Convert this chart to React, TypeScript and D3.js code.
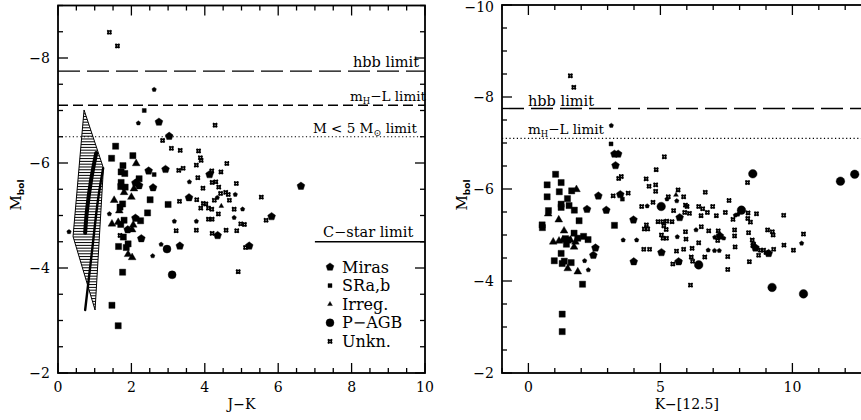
import React from 'react';
import * as d3 from 'd3';

type P = [number, number];

// ---------- tick labels ----------
const jkTicks = [0, 2, 4, 6, 8, 10];
const kTicks = [0, 5, 10];
const mbolTicksL = [-2, -4, -6, -8];
const mbolTicksR = [-2, -4, -6, -8, -10];
const legendLabels = ['Miras', 'SRa,b', 'Irreg.', 'P\u2212AGB', 'Unkn.'];

// ---------- limits (M_bol) ----------
const hbbLimit = -7.75;
const mhlLimit = -7.1;
const mass5Limit = -6.5;
const cstarLimit = -4.5;
const cstarStart = 7.0;

// ---------- left panel: J-K vs Mbol ----------
const leftMiras: P[] = [[2.75,-6.78],[3.03,-6.51],[2.47,-5.85],[2.93,-5.88],[2.11,-5.62],[2.21,-5.57],[2.59,-5.53],[3.57,-5.34],[2.11,-4.95],[1.90,-4.73],[2.27,-4.56],[3.32,-4.42],[4.35,-4.62],[5.21,-4.42],[5.82,-4.98],[6.62,-5.56],[4.13,-5.78]];
const leftMirasFaint: P[] = [[2.62,-7.40],[2.19,-6.76],[3.58,-5.64],[4.83,-5.40],[4.34,-5.34],[5.03,-5.12],[1.40,-5.03],[3.17,-4.89],[3.77,-4.89],[4.80,-4.96],[2.81,-4.45],[2.58,-4.23],[0.30,-4.69]];
const leftSR: P[] = [[1.57,-6.32],[2.04,-6.14],[1.46,-6.09],[1.77,-5.95],[1.72,-5.83],[1.82,-5.80],[2.21,-5.70],[1.72,-5.63],[1.71,-5.55],[1.83,-5.54],[2.51,-5.30],[1.76,-5.22],[1.69,-5.16],[3.00,-5.21],[2.44,-5.05],[1.80,-4.91],[1.71,-4.83],[2.25,-4.90],[1.78,-4.59],[1.91,-4.46],[1.65,-4.41],[1.86,-4.39],[1.76,-3.92],[1.47,-3.29],[1.64,-2.90]];
const leftSRFaint: P[] = [[2.35,-7.00],[2.62,-5.78]];
const leftIrr: P[] = [[2.13,-5.99],[2.07,-5.51],[1.80,-5.44],[2.00,-5.35],[1.53,-5.29],[1.67,-5.09],[1.47,-4.84],[2.02,-4.73],[1.91,-4.26],[2.02,-4.20],[1.64,-4.87],[2.05,-4.82]];
const leftIrrFaint: P[] = [[4.45,-5.18]];
const leftPAGB: P[] = [[2.97,-4.36],[3.11,-3.87]];
const leftUnkn: P[] = [[1.40,-8.49],[1.62,-8.23],[4.28,-6.72],[2.85,-6.43],[3.09,-6.28],[3.33,-6.24],[3.83,-6.23],[3.88,-6.10],[3.90,-6.05],[3.77,-5.96],[4.60,-5.99],[3.29,-5.86],[3.41,-5.90],[4.19,-5.85],[4.44,-5.83],[3.81,-5.72],[4.20,-5.63],[4.30,-5.64],[4.86,-5.61],[3.95,-5.52],[4.38,-5.54],[4.43,-5.42],[4.57,-5.44],[4.64,-5.40],[5.54,-5.35],[3.31,-5.27],[3.78,-5.30],[3.96,-5.23],[4.03,-5.22],[4.26,-5.29],[4.67,-5.29],[3.89,-5.14],[4.10,-5.14],[4.19,-5.12],[4.80,-5.12],[4.37,-5.03],[4.10,-4.93],[4.20,-4.93],[4.98,-4.84],[5.08,-4.83],[5.67,-4.91],[3.22,-4.71],[3.77,-4.72],[4.20,-4.66],[4.58,-4.72],[4.87,-4.71],[1.69,-4.62],[5.11,-4.39],[4.91,-3.93]];

// model region and tracks (J-K, Mbol)
const modelRegion: P[] = [[0.71,-7.01],[1.23,-5.92],[1.23,-5.81],[1.01,-3.20],[0.41,-4.60]];
const trackA: P[] = [[1.04,-6.19],[0.90,-5.67],[0.79,-5.10],[0.74,-4.67]];
const trackB: P[] = [[1.23,-5.90],[1.09,-5.30],[0.93,-4.34],[0.82,-3.68],[0.74,-3.20]];

// ---------- right panel: K-[12.5] vs Mbol ----------
const rightMiras: P[] = [[3.26,-6.76],[3.40,-6.76],[3.30,-6.51],[3.48,-5.88],[2.65,-5.85],[2.22,-5.56],[2.95,-5.54],[3.98,-5.33],[2.54,-4.72],[2.46,-4.56],[3.99,-4.42],[5.04,-4.62],[5.69,-4.42],[5.73,-5.38],[7.25,-4.98],[8.60,-4.72],[9.10,-4.60]];
const rightMirasFaint: P[] = [[3.14,-7.38],[5.25,-5.78],[5.62,-5.74],[4.50,-5.63],[3.59,-4.89],[4.10,-4.89],[2.13,-4.44],[2.27,-4.24],[6.35,-5.11],[7.06,-4.95],[7.40,-4.93],[6.81,-4.67],[7.05,-4.66],[7.23,-4.66],[5.64,-4.96],[7.84,-5.43],[7.94,-5.45],[10.35,-4.82]];
const rightSR: P[] = [[1.03,-6.32],[0.71,-6.09],[1.24,-6.14],[1.17,-5.94],[1.64,-5.96],[0.71,-5.83],[1.48,-5.79],[1.24,-5.67],[1.24,-5.60],[1.54,-5.64],[1.74,-5.54],[0.76,-5.53],[1.92,-5.31],[0.52,-5.22],[0.53,-5.16],[3.26,-5.21],[1.73,-5.04],[1.41,-4.92],[1.50,-4.89],[1.44,-4.80],[1.87,-4.93],[2.09,-4.97],[2.26,-4.90],[1.24,-4.60],[0.98,-4.44],[1.36,-4.43],[1.28,-4.38],[1.62,-4.40],[2.05,-3.93],[1.28,-3.28],[1.28,-2.90]];
const rightSRFaint: P[] = [[3.13,-6.98],[3.56,-5.78]];
const rightIrr: P[] = [[1.82,-5.99],[1.15,-5.33],[0.75,-5.46],[1.35,-5.09],[0.94,-4.85],[1.16,-4.87],[1.30,-4.89],[1.59,-4.89],[1.78,-4.85],[1.73,-4.74],[1.49,-4.27],[1.87,-4.20]];
const rightIrrFaint: P[] = [[5.59,-5.87]];
const rightPAGB: P[] = [[8.50,-6.33],[11.82,-6.17],[12.36,-6.32],[8.07,-5.54],[5.03,-5.62],[6.45,-4.35],[9.23,-3.86],[10.42,-3.72]];
const rightUnkn: P[] = [[1.59,-8.46],[1.72,-8.21],[5.15,-6.70],[4.84,-6.42],[3.42,-6.23],[3.52,-6.27],[4.46,-6.22],[4.57,-6.06],[4.82,-6.09],[4.82,-5.95],[5.67,-5.98],[6.70,-5.93],[8.30,-6.14],[3.21,-5.85],[3.78,-5.91],[5.30,-5.83],[5.88,-5.83],[7.60,-5.75],[4.29,-5.62],[4.72,-5.71],[5.50,-5.53],[5.95,-5.65],[6.01,-5.62],[5.92,-5.49],[6.10,-5.47],[6.45,-5.62],[6.60,-5.57],[6.98,-5.62],[6.54,-5.42],[6.78,-5.49],[7.12,-5.42],[7.46,-5.49],[7.75,-5.34],[8.32,-5.48],[8.31,-5.36],[8.41,-5.28],[8.64,-5.46],[9.67,-5.43],[4.47,-5.22],[4.39,-5.13],[4.52,-5.13],[4.91,-5.29],[5.09,-5.29],[5.24,-5.30],[5.44,-5.29],[5.22,-5.12],[5.13,-5.20],[5.04,-5.00],[5.10,-4.93],[5.23,-4.93],[5.95,-5.07],[5.97,-4.91],[6.55,-5.18],[6.83,-5.09],[7.19,-5.09],[7.17,-4.88],[6.45,-4.83],[7.81,-5.11],[7.81,-4.98],[8.34,-5.05],[8.48,-4.89],[8.53,-4.80],[9.06,-5.11],[9.24,-5.07],[9.27,-5.00],[4.37,-4.69],[4.59,-4.69],[5.61,-4.65],[5.88,-4.69],[6.20,-4.71],[6.68,-4.52],[7.83,-4.74],[8.50,-4.77],[8.79,-4.67],[8.91,-4.67],[9.00,-4.62],[9.29,-4.69],[8.72,-4.56],[9.68,-4.78],[10.04,-4.67],[10.42,-5.02],[5.47,-4.37],[5.72,-4.42],[6.17,-4.52],[6.22,-4.43],[7.55,-4.53],[7.55,-4.25],[8.37,-4.42],[6.14,-3.91]];

// ---------- symbols ----------
const pentagonType = {
  draw(ctx: any, size: number) {
    const r = Math.sqrt(size / 2.3776);
    for (let i = 0; i < 5; i++) {
      const a = -Math.PI / 2 + (i * 2 * Math.PI) / 5;
      const x = r * Math.cos(a), y = r * Math.sin(a);
      if (i) ctx.lineTo(x, y); else ctx.moveTo(x, y);
    }
    ctx.closePath();
  },
};
const unknType = {
  draw(ctx: any, size: number) {
    const s = Math.sqrt(size) / 2;
    const k = 0.2;
    ctx.moveTo(-s, -s);
    ctx.quadraticCurveTo(0, -s * k, s, -s);
    ctx.quadraticCurveTo(s * k, 0, s, s);
    ctx.quadraticCurveTo(0, s * k, -s, s);
    ctx.quadraticCurveTo(-s * k, 0, -s, -s);
    ctx.closePath();
  },
};

const sym = {
  mira: d3.symbol().type(pentagonType as any).size(40)()!,
  miraFaint: d3.symbol().type(pentagonType as any).size(13)()!,
  sr: d3.symbol().type(d3.symbolSquare).size(38)()!,
  srFaint: d3.symbol().type(d3.symbolSquare).size(16)()!,
  irr: d3.symbol().type(d3.symbolTriangle).size(26)()!,
  irrFaint: d3.symbol().type(d3.symbolTriangle).size(10)()!,
  pagb: d3.symbol().type(d3.symbolCircle).size(50)()!,
  pagbR: d3.symbol().type(d3.symbolCircle).size(58)()!,
  unkn: d3.symbol().type(unknType as any).size(16)()!,
};

const SERIF = '"DejaVu Serif", "Liberation Serif", serif';
const SANS = '"DejaVu Sans", sans-serif';
const MINUS = '\u2212';
const fmt = (v: number) => (v < 0 ? MINUS + Math.abs(v) : String(v));

// ---------- layout ----------
const W = 861, H = 420;
const L = { x0: 58, x1: 425, y0: 373, y1: 5.5 };
const R = { x0: 502, x1: 871.6, y0: 373, y1: 5 };

function Marks({ data, d, x, y, filled = true }: { data: P[]; d: string; x: any; y: any; filled?: boolean }) {
  return (
    <g>
      {data.map((p, i) => (
        <path key={i} d={d} transform={`translate(${x(p[0])},${y(p[1])})`}
          fill={filled ? '#000' : 'none'} stroke="#000" strokeWidth={filled ? 0.4 : 1.5} />
      ))}
    </g>
  );
}

function Frame({ x, y, box, xMajor, xMinor, yMajor, yMinor, xLabels }: any) {
  const els: any[] = [];
  xMinor.forEach((v: number, i: number) => {
    const px = x(v);
    const len = xMajor.includes(v) ? 10 : 5;
    els.push(<line key={'xb' + i} x1={px} x2={px} y1={box.y0} y2={box.y0 - len} />);
    els.push(<line key={'xt' + i} x1={px} x2={px} y1={box.y1} y2={box.y1 + len} />);
  });
  yMinor.forEach((v: number, i: number) => {
    const py = y(v);
    const len = yMajor.includes(v) ? 10 : 5;
    els.push(<line key={'yl' + i} x1={box.x0} x2={box.x0 + len} y1={py} y2={py} />);
    els.push(<line key={'yr' + i} x1={box.x1} x2={box.x1 - len} y1={py} y2={py} />);
  });
  return (
    <g>
      <g stroke="#000" strokeWidth={1.3}>{els}</g>
      <rect x={box.x0} y={box.y1} width={box.x1 - box.x0} height={box.y0 - box.y1} fill="none" stroke="#000" strokeWidth={1.8} />
      <g fontFamily={SERIF} fontSize={14} fill="#000">
        {xLabels.map((v: number) => (
          <text key={'xl' + v} x={x(v)} y={box.y0 + 19} textAnchor="middle">{fmt(v)}</text>
        ))}
        {yMajor.map((v: number) => (
          <text key={'yl' + v} x={box.x0 - 8} y={Math.max(y(v) + 5, 12)} textAnchor="end">{fmt(v)}</text>
        ))}
      </g>
    </g>
  );
}

export default function App() {
  const xL = d3.scaleLinear().domain([0, 10]).range([L.x0, L.x1]);
  const yL = d3.scaleLinear().domain([-2, -9]).range([L.y0, L.y1]);
  const xR = d3.scaleLinear().domain([-1, 13]).range([R.x0, R.x1]);
  const yR = d3.scaleLinear().domain([-2, -10]).range([R.y0, R.y1]);

  const line = (xs: any, ys: any) => d3.line<P>().x((p) => xs(p[0])).y((p) => ys(p[1])).curve(d3.curveCatmullRom);
  const polyPts = modelRegion.map((p) => [xL(p[0]), yL(p[1])]);
  const polyStr = polyPts.map((p) => p.join(',')).join(' ');
  const yMin = d3.min(polyPts, (p) => p[1])!;
  const yMax = d3.max(polyPts, (p) => p[1])!;
  const hatch = d3.range(yMin + 1, yMax, 2.8);

  const minorL = d3.range(0, 10.001, 0.5);
  const minorYL = d3.range(-2, -9.001, -0.5);
  const minorR = d3.range(-1, 13.001, 1);
  const minorYR = d3.range(-2, -10.001, -0.5);

  const legendX = 330, legendY0 = 267, legendDy = 18.6;
  const legendSyms = [sym.mira, sym.srFaint, sym.irrFaint, sym.pagb, sym.unkn];

  return (
    <svg width={W} height={H} style={{ position: 'absolute', left: 0, top: 0, background: '#fff' }}>
      <rect x={0} y={0} width={W} height={H} fill="#fff" />
      {/* ================= LEFT PANEL ================= */}
      <defs>
        <clipPath id="modelClip"><polygon points={polyStr} /></clipPath>
      </defs>
      <g clipPath="url(#modelClip)" stroke="#000" strokeWidth={1}>
        {hatch.map((py, i) => (
          <line key={i} x1={xL(0)} x2={xL(2)} y1={py} y2={py} />
        ))}
      </g>
      <polygon points={polyStr} fill="none" stroke="#000" strokeWidth={1} />
      <path d={line(xL, yL)(trackA)!} fill="none" stroke="#000" strokeWidth={4} strokeLinecap="round" />
      <path d={line(xL, yL)(trackB)!} fill="none" stroke="#000" strokeWidth={2.4} strokeLinecap="round" />

      <g stroke="#000" strokeWidth={1.4} fill="none">
        <line x1={xL(0)} x2={xL(10)} y1={yL(hbbLimit)} y2={yL(hbbLimit)} strokeDasharray="22 7" />
        <line x1={xL(0)} x2={xL(10)} y1={yL(mhlLimit)} y2={yL(mhlLimit)} strokeDasharray="10 5" />
        <line x1={xL(0)} x2={xL(10)} y1={yL(mass5Limit)} y2={yL(mass5Limit)} strokeDasharray="1.2 2.5" strokeWidth={1.1} />
        <line x1={xL(cstarStart)} x2={xL(10)} y1={yL(cstarLimit)} y2={yL(cstarLimit)} />
      </g>
      <g fontFamily={SERIF} fontSize={14.5} fill="#000">
        <text x={353} y={yL(hbbLimit) - 4}>hbb limit</text>
        <text x={350} y={yL(mhlLimit) - 4} fontSize={13.5}>m<tspan fontSize={8.5} dy={3}>H</tspan><tspan dy={-3}>{MINUS}L limit</tspan></text>
        <text x={313} y={yL(mass5Limit) - 4} fontSize={13.5}>M &lt; 5 M<tspan fontSize={9.5} dy={3}>{'\u2299'}</tspan><tspan dy={-3}> limit</tspan></text>
        <text x={323} y={yL(cstarLimit) - 5}>C{MINUS}star limit</text>
      </g>

      <Marks data={leftUnkn} d={sym.unkn} x={xL} y={yL} filled={false} />
      <Marks data={leftMiras} d={sym.mira} x={xL} y={yL} />
      <Marks data={leftMirasFaint} d={sym.miraFaint} x={xL} y={yL} />
      <Marks data={leftSR} d={sym.sr} x={xL} y={yL} />
      <Marks data={leftSRFaint} d={sym.srFaint} x={xL} y={yL} />
      <Marks data={leftIrr} d={sym.irr} x={xL} y={yL} />
      <Marks data={leftIrrFaint} d={sym.irrFaint} x={xL} y={yL} />
      <Marks data={leftPAGB} d={sym.pagb} x={xL} y={yL} />

      {/* legend */}
      <g fontFamily={SERIF} fontSize={16} fill="#000">
        {legendLabels.map((lab, i) => (
          <g key={lab} transform={`translate(${legendX},${legendY0 + i * legendDy})`}>
            <path d={legendSyms[i]} fill={i === 4 ? 'none' : '#000'} stroke="#000" strokeWidth={i === 4 ? 1.5 : 0.4} />
            <text x={12} y={5.5}>{lab}</text>
          </g>
        ))}
      </g>

      <Frame x={xL} y={yL} box={L} xMajor={jkTicks} xMinor={minorL} yMajor={mbolTicksL} yMinor={minorYL} xLabels={jkTicks} />
      <text x={(L.x0 + L.x1) / 2} y={409} textAnchor="middle" fontFamily={SERIF} fontSize={14}>J{MINUS}K</text>
      <text transform={`translate(21,195) rotate(-90)`} textAnchor="middle" fontFamily={SERIF} fontSize={15}>
        M<tspan fontFamily={SANS} fontWeight="bold" fontSize={9} dy={3}>bol</tspan>
      </text>

      {/* ================= RIGHT PANEL ================= */}
      <g stroke="#000" strokeWidth={1.4} fill="none">
        <line x1={R.x0} x2={R.x1} y1={yR(hbbLimit)} y2={yR(hbbLimit)} strokeDasharray="22 7" />
        <line x1={R.x0} x2={R.x1} y1={yR(mhlLimit)} y2={yR(mhlLimit)} strokeDasharray="1.2 2.5" strokeWidth={1.1} />
      </g>
      <g fontFamily={SERIF} fontSize={14.5} fill="#000">
        <text x={528} y={yR(hbbLimit) - 3}>hbb limit</text>
        <text x={528} y={yR(mhlLimit) - 4} fontSize={13.5}>m<tspan fontSize={8.5} dy={3}>H</tspan><tspan dy={-3}>{MINUS}L limit</tspan></text>
      </g>

      <Marks data={rightUnkn} d={sym.unkn} x={xR} y={yR} filled={false} />
      <Marks data={rightMiras} d={sym.mira} x={xR} y={yR} />
      <Marks data={rightMirasFaint} d={sym.miraFaint} x={xR} y={yR} />
      <Marks data={rightSR} d={sym.sr} x={xR} y={yR} />
      <Marks data={rightSRFaint} d={sym.srFaint} x={xR} y={yR} />
      <Marks data={rightIrr} d={sym.irr} x={xR} y={yR} />
      <Marks data={rightIrrFaint} d={sym.irrFaint} x={xR} y={yR} />
      <Marks data={rightPAGB} d={sym.pagbR} x={xR} y={yR} />

      <Frame x={xR} y={yR} box={R} xMajor={kTicks} xMinor={minorR} yMajor={mbolTicksR} yMinor={minorYR} xLabels={kTicks} />
      <text x={(R.x0 + R.x1) / 2} y={409} textAnchor="middle" fontFamily={SERIF} fontSize={14}>K{MINUS}[12.5]</text>
      <text transform={`translate(467,195) rotate(-90)`} textAnchor="middle" fontFamily={SERIF} fontSize={15}>
        M<tspan fontFamily={SANS} fontWeight="bold" fontSize={9} dy={3}>bol</tspan>
      </text>
    </svg>
  );
}
